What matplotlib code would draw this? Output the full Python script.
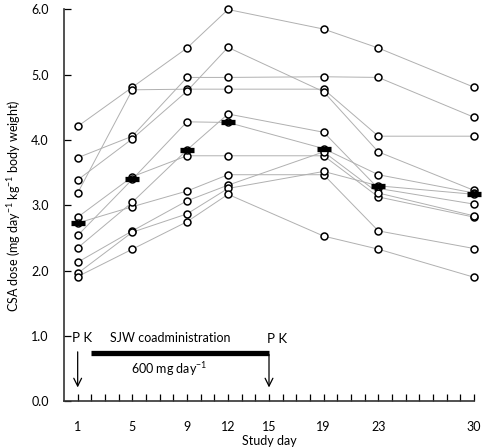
import matplotlib
matplotlib.use('Agg')
import matplotlib.pyplot as plt
import numpy as np

plt.rcParams['font.family'] = ['Lato', 'DejaVu Sans']
plt.rcParams['mathtext.fontset'] = 'custom'
plt.rcParams['mathtext.rm'] = 'Lato'

# study days at which CSA dose was recorded
days = [1, 5, 9, 12, 19, 23, 30]

# CSA dose (mg/day/kg) per subject
subjects = [
    [4.21, 4.81, 5.41, 6.00, 5.70, 5.41, 4.81],
    [3.19, 4.77, 4.78, 4.78, 4.78, 4.06, 4.06],
    [3.73, 4.06, 4.96, 4.96, 4.97, 4.96, 4.35],
    [3.39, 4.02, 4.75, 5.42, 4.74, 3.82, 3.23],
    [2.82, 3.44, 3.76, 3.76, 3.76, 3.13, 2.82],
    [2.73, 2.98, 3.22, 3.47, 3.47, 2.61, 2.34],
    [2.54, 3.40, 4.28, 4.27, 3.87, 3.47, 3.19],
    [2.35, 3.05, 3.85, 4.40, 4.12, 3.26, 3.02],
    [2.13, 2.61, 3.07, 3.31, 3.82, 3.19, 2.84],
    [1.96, 2.59, 2.87, 3.26, 3.52, 3.30, 3.17],
    [1.91, 2.33, 2.75, 3.17, 2.53, 2.33, 1.90],
]

xtick_days = [1, 5, 9, 12, 15, 19, 23, 30]
ytick_vals = [0, 1, 2, 3, 4, 5, 6]

fig = plt.figure(figsize=(4.82, 4.48), dpi=100)
ax = fig.add_axes([0.1328, 0.1042, 0.8506, 0.8746])

for vals in subjects:
    ax.plot(days, vals, c='#b0b0b0', lw=0.7, zorder=1, clip_on=False)
    ax.plot(days, vals, ls='none', marker='o', ms=5.0, mfc='white', mec='black', mew=1.1,
            zorder=2, clip_on=False)

median = np.median(np.array(subjects), axis=0)
ax.plot(days, median, ls='none', marker='_', ms=10.5, mew=3.8, c='black', zorder=3, clip_on=False)

# SJW coadministration annotation
ax.plot([2, 15], [0.745, 0.745], c='black', lw=3.8, solid_capstyle='butt')
arrow = dict(arrowstyle='->', color='black', lw=0.9, mutation_scale=14)
ax.annotate('', xy=(1, 0.17), xytext=(1, 0.8), arrowprops=arrow)
ax.annotate('', xy=(15, 0.17), xytext=(15, 0.76), arrowprops=arrow)
ax.text(1.3, 0.97, 'P K', ha='center', va='center', fontsize=9.5)
ax.text(15.6, 0.95, 'P K', ha='center', va='center', fontsize=9.5)
ax.text(7.75, 0.97, 'SJW coadministration', ha='center', va='center', fontsize=9)
ax.text(7.7, 0.5, '600 mg day$^{-1}$', ha='center', va='center', fontsize=9)

ax.set_xlim(0, 30)
ax.set_ylim(0, 6)
ax.set_xticks(xtick_days)
ax.set_xticklabels([str(d) for d in xtick_days])
ax.set_xticks(range(1, 31), minor=True)
ax.set_yticks(ytick_vals)
ax.set_yticklabels([f'{v:.1f}' for v in ytick_vals])
ax.tick_params(axis='x', which='both', direction='in', length=5, width=0.9, pad=14, labelsize=9)
ax.tick_params(axis='y', direction='in', length=5, width=0.9, pad=11, labelsize=9)

for side in ['top', 'right']:
    ax.spines[side].set_visible(False)
for side in ['left', 'bottom']:
    ax.spines[side].set_linewidth(1.2)
    ax.spines[side].set_color('#333333')

ax.set_xlabel('Study day', fontsize=9, labelpad=1.5)
ax.set_ylabel('CSA dose (mg day$^{-1}$ kg$^{-1}$ body weight)', fontsize=9, labelpad=6)

fig.savefig('out.png', dpi=100)
